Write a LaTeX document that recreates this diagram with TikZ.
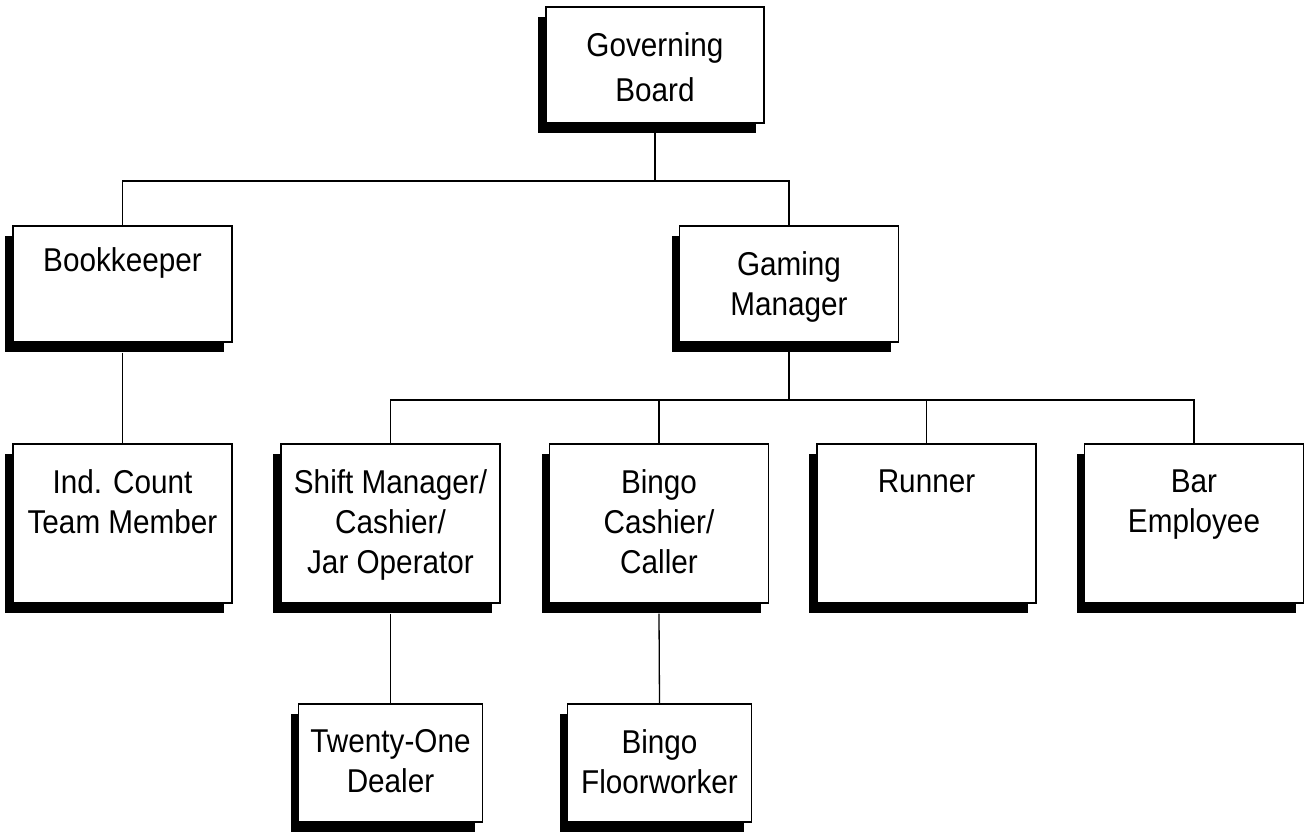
\documentclass[tikz,border=0pt]{standalone}
\usepackage{fontspec}
\setmainfont{Liberation Sans}[FakeStretch=0.9]
\usetikzlibrary{shadows}
\begin{document}
\begin{tikzpicture}[x=1pt,y=-1pt,
  orgbox/.style={draw, fill=white, line width=1.4pt, inner sep=0pt,
    minimum width=219pt, minimum height=116pt,
    drop shadow={shadow xshift=-8pt, shadow yshift=-10pt, fill=black, opacity=1}},
  tall/.style={minimum height=159pt},
  small/.style={minimum width=184pt, minimum height=118pt},
  txt/.style={anchor=north, yshift=-26pt, align=center, inner sep=0pt,
    font=\fontsize{33}{40}\selectfont},
  conn/.style={line width=1.3pt}]
\useasboundingbox (0,0) rectangle (1307,831);
% bar levels
\coordinate (bar1) at (0,181);
\coordinate (bar2) at (0,400);
% nodes
\node[orgbox, minimum width=218pt] (gb) at (655,65) {};
\node[txt, font=\fontsize{33}{45}\selectfont] (gbt) at (gb.north) {Governing\\Board};
\node[orgbox] (bk) at (122.5,284) {};
\node[txt, yshift=4pt] (bkt) at (bk.north) {Bookkeeper};
\node[orgbox] (gm) at (789,284) {};
\node[txt] (gmt) at (gm.north) {Gaming\\Manager};
\node[orgbox,tall] (ic) at (122.5,523.5) {};
\node[txt] (ict) at (ic.north) {Ind. Count\\Team Member};
\node[orgbox,tall] (sm) at (390.5,523.5) {};
\node[txt] (smt) at (sm.north) {Shift Manager/\\Cashier/\\Jar Operator};
\node[orgbox,tall] (bc) at (659,523.5) {};
\node[txt] (bct) at (bc.north) {Bingo\\Cashier/\\Caller};
\node[orgbox,tall] (rn) at (926.5,523.5) {};
\node[txt] (rnt) at (rn.north) {Runner};
\node[orgbox,tall] (be) at (1194,523.5) {};
\node[txt] (bet) at (be.north) {Bar\\Employee};
\node[orgbox,small] (td) at (390.5,763) {};
\node[txt] (tdt) at (td.north) {Twenty-One\\Dealer};
\node[orgbox,small] (bf) at (659.5,763) {};
\node[txt] (bft) at (bf.north) {Bingo\\Floorworker};
% connectors
\draw[conn] (gb.south) -- (gb.south |- bar1);
\draw[conn] (bk.north) -- (bk.north |- bar1) -- (gm.north |- bar1) -- (gm.north);
\draw[conn] (gm.south) -- (gm.south |- bar2);
\draw[conn] (sm.north) -- (sm.north |- bar2) -- (be.north |- bar2) -- (be.north);
\draw[conn] (bc.north) -- (bc.north |- bar2);
\draw[conn] (rn.north) -- (rn.north |- bar2);
\draw[conn] ([yshift=-10pt]bk.south) -- (ic.north);
\draw[conn] ([yshift=-10pt]sm.south) -- (td.north);
\draw[conn] ([yshift=-10pt]bc.south) -- (bf.north);
\end{tikzpicture}
\end{document}
